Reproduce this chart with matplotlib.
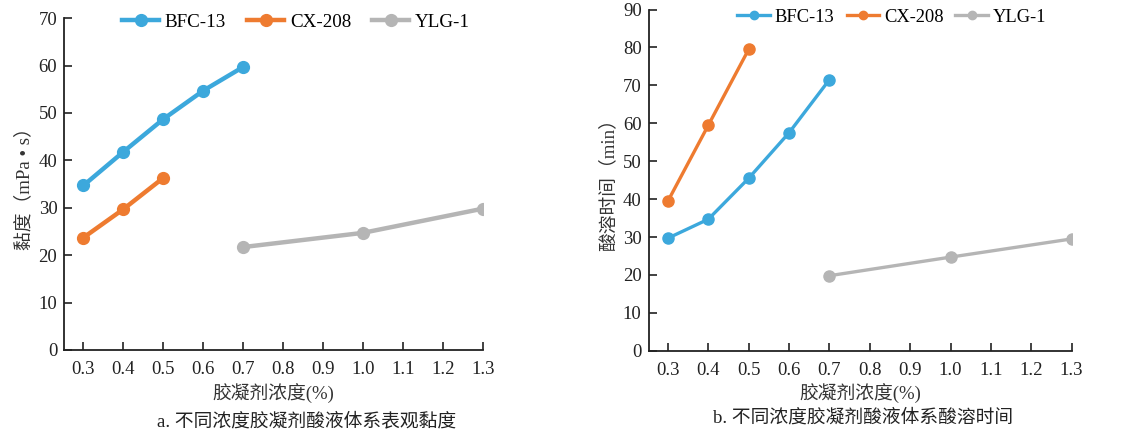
import matplotlib.pyplot as plt

plt.rcParams['font.family'] = ['Liberation Serif', 'Noto Sans CJK SC']
plt.rcParams['axes.unicode_minus'] = False

# 数据
x_ticks = [0.3, 0.4, 0.5, 0.6, 0.7, 0.8, 0.9, 1.0, 1.1, 1.2, 1.3]
x_bfc = [0.3, 0.4, 0.5, 0.6, 0.7]
x_cx = [0.3, 0.4, 0.5]
x_ylg = [0.7, 1.0, 1.3]

visc_bfc = [34.7, 41.8, 48.7, 54.7, 59.7]
visc_cx = [23.7, 29.7, 36.3]
visc_ylg = [21.7, 24.7, 29.8]

time_bfc = [29.7, 34.7, 45.5, 57.5, 71.5]
time_cx = [39.5, 59.5, 79.5]
time_ylg = [19.8, 24.7, 29.5]

names = ['BFC-13', 'CX-208', 'YLG-1']
colors = ['#3CA8DC', '#EE7B30', '#B5B5B5']

fig = plt.figure(figsize=(11.28, 4.32), dpi=100)
ax1 = fig.add_axes([0.057, 0.19, 0.371, 0.768])
ax2 = fig.add_axes([0.575, 0.188, 0.375, 0.79])


def draw(ax, series, ylim, ylabel, lw, ms, legend_ms, bbox, hl, cs, tp, lfs):
    for (xs, ys), name, c in zip(series, names, colors):
        ax.plot(xs, ys, color=c, lw=lw, marker='o', ms=ms, label=name)
    ax.set_xlim(0.252, 1.3)
    ax.set_ylim(0, ylim)
    ax.set_xticks(x_ticks)
    ax.set_xticklabels(['{:.1f}'.format(v) for v in x_ticks])
    ax.set_yticks(range(0, ylim + 1, 10))
    ax.tick_params(direction='in', length=6, width=1.2, labelsize=13.5, colors='#222222', pad=8)
    ax.tick_params(axis='y', pad=5)
    for s in ['top', 'right']:
        ax.spines[s].set_visible(False)
    for s in ['left', 'bottom']:
        ax.spines[s].set_linewidth(1.3)
        ax.spines[s].set_color('#222222')
    ax.set_xlabel('胶凝剂浓度(%)', fontsize=13.5, labelpad=4, color='#333333')
    ax.set_ylabel(ylabel, fontsize=13.5, labelpad=4, color='#333333')
    ax.legend(ncol=3, frameon=False, loc='center left', bbox_to_anchor=bbox,
              fontsize=lfs, handlelength=hl, columnspacing=cs, handletextpad=tp,
              markerscale=legend_ms / ms, borderaxespad=0, borderpad=0)


draw(ax1, [(x_bfc, visc_bfc), (x_cx, visc_cx), (x_ylg, visc_ylg)], 70,
     '黏度（mPa • s）', 3.2, 8.5, 8.5, (0.138, 0.988), 1.95, 1.1, 0.3, 13.7)
draw(ax2, [(x_bfc, time_bfc), (x_cx, time_cx), (x_ylg, time_ylg)], 90,
     '酸溶时间（min）', 2.4, 8, 6, (0.21, 0.977), 1.75, 0.65, 0.27, 13.3)

fig.text(0.272, 0.025, 'a. 不同浓度胶凝剂酸液体系表观黏度', ha='center', va='center',
         fontsize=13.5, color='#222222')
fig.text(0.765, 0.033, 'b. 不同浓度胶凝剂酸液体系酸溶时间', ha='center', va='center',
         fontsize=13.5, color='#222222')

plt.savefig('out.png')
